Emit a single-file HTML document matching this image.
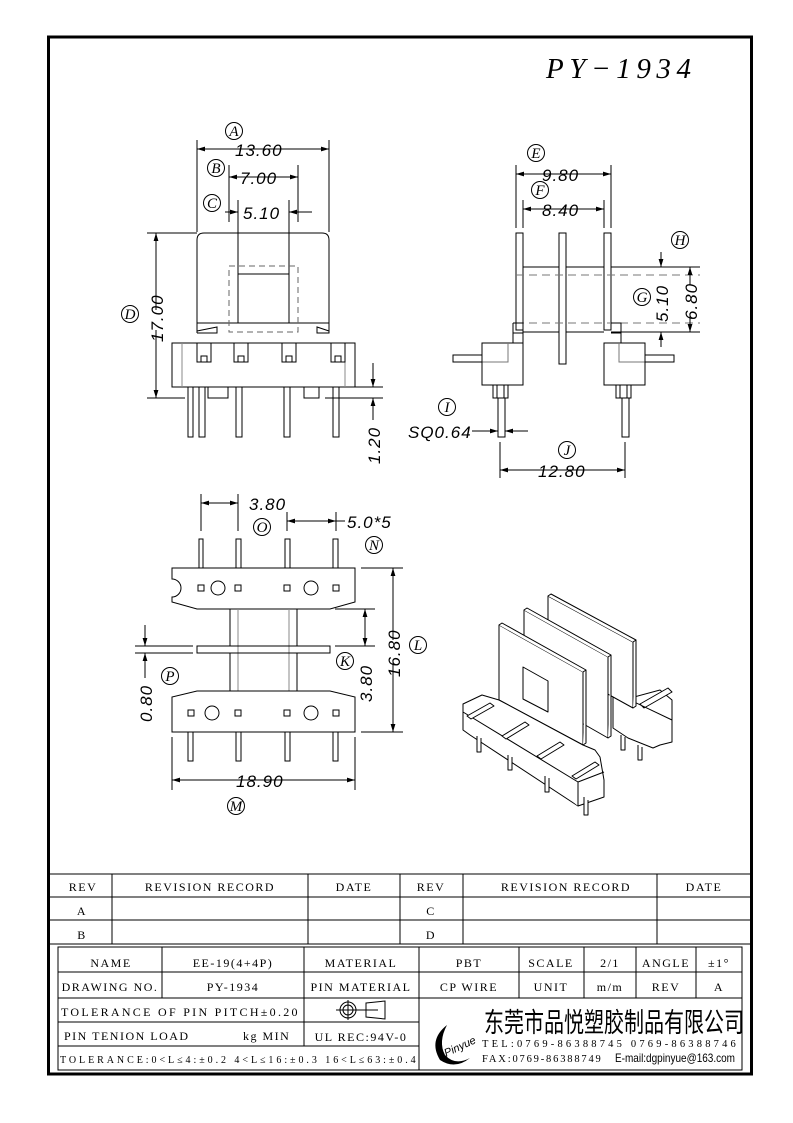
<!DOCTYPE html>
<html><head><meta charset="utf-8"><style>
html,body{margin:0;padding:0;background:#fff}
svg{display:block}
.d{font-family:"Liberation Sans",sans-serif;font-style:italic;font-size:17px;letter-spacing:1px}
.c{font-family:"Liberation Serif",serif;font-style:italic;font-size:15px}
.t{font-family:"Liberation Serif",serif;font-size:12px;letter-spacing:1.5px}
</style></head><body>
<svg width="793" height="1123" viewBox="0 0 793 1123" xmlns="http://www.w3.org/2000/svg">
<defs>
<marker id="a" viewBox="0 0 10 6" refX="10" refY="3" markerWidth="8" markerHeight="5" orient="auto-start-reverse"><path d="M0,0L10,3L0,6z" fill="#000"/></marker>
</defs>
<rect width="793" height="1123" fill="#fff"/>
<rect x="48.5" y="37" width="703" height="1037" fill="none" stroke="#000" stroke-width="3"/>
<text x="546" y="78" font-family="Liberation Serif,serif" font-style="italic" font-size="29" letter-spacing="3" textLength="148">PY−1934</text>

<g fill="none" stroke="#000" stroke-width="1">
<!-- FRONT VIEW -->
<path d="M197,140V232M329,140V232"/>
<line x1="197" y1="149" x2="329" y2="149" marker-start="url(#a)" marker-end="url(#a)"/>
<path d="M229,165V222M298,165V222"/>
<line x1="229" y1="177" x2="298" y2="177" marker-start="url(#a)" marker-end="url(#a)"/>
<path d="M238,200V274M289,200V274"/>
<line x1="225" y1="212" x2="238" y2="212" marker-end="url(#a)"/>
<line x1="312" y1="212" x2="289" y2="212" marker-end="url(#a)"/>
<path d="M197,333V240Q197,233 204,233H322Q329,233 329,240V333H317V327L329,331M197,323H329"/>
<path d="M197,333H217V327L197,331"/>
<rect x="238" y="274" width="51" height="49"/>
<rect x="229" y="266" width="69" height="66" stroke="#666" stroke-dasharray="6,4"/>
<rect x="172" y="343" width="183" height="44"/>
<path d="M182,343V387M345,343V387" stroke="#888"/>
<g>
<rect x="197" y="343" width="14" height="19"/><rect x="201" y="356" width="6" height="6"/>
<rect x="234" y="343" width="14" height="19"/><rect x="238" y="356" width="6" height="6"/>
<rect x="282" y="343" width="14" height="19"/><rect x="286" y="356" width="6" height="6"/>
<rect x="331" y="343" width="14" height="19"/><rect x="335" y="356" width="6" height="6"/>
</g>
<path d="M188,387V437H193V387M199,387V437H205V387M236,387V437H242V387M284,387V437H290V387M333,387V437H339V387"/>
<rect x="208" y="387" width="20" height="11"/><rect x="304" y="387" width="15" height="11"/>
<path d="M147,233H197M147,398H185M325,398H383M355,387H383"/>
<line x1="156" y1="310" x2="156" y2="233" marker-end="url(#a)"/>
<line x1="156" y1="330" x2="156" y2="398" marker-end="url(#a)"/>
<line x1="373" y1="363" x2="373" y2="387" marker-end="url(#a)"/>
<line x1="373" y1="420" x2="373" y2="398" marker-end="url(#a)"/>

<!-- SIDE VIEW -->
<path d="M516,165V228M611,165V228M523,200V228M604,200V228"/>
<line x1="516" y1="174" x2="611" y2="174" marker-start="url(#a)" marker-end="url(#a)"/>
<line x1="523" y1="209" x2="604" y2="209" marker-start="url(#a)" marker-end="url(#a)"/>
<rect x="516" y="233" width="7" height="97"/>
<rect x="604" y="233" width="7" height="97"/>
<rect x="559" y="233" width="7" height="131"/>
<path d="M523,267H559M566,267H604M611,267H700M523,332H559M566,332H604M611,332H700"/>
<path d="M516,275H700M516,323H700" stroke="#777" stroke-dasharray="8,5"/>
<path d="M513,323H523V343M513,323V343M513,333H523M611,323H621V343M611,333H621"/>
<rect x="482" y="343" width="41" height="42"/>
<rect x="604" y="343" width="41" height="42"/>
<path d="M482,362H508V343M645,362H619V343" stroke="#777"/>
<rect x="453" y="355" width="29" height="7"/><rect x="645" y="355" width="29" height="7"/>
<rect x="493" y="385" width="15" height="13"/><path d="M497,385V398M504,385V398"/>
<rect x="616" y="385" width="15" height="13"/><path d="M620,385V398M627,385V398"/>
<rect x="498" y="398" width="7" height="39"/><rect x="622" y="398" width="7" height="39"/>
<line x1="472" y1="431" x2="498" y2="431" marker-end="url(#a)"/>
<line x1="528" y1="431" x2="505" y2="431" marker-end="url(#a)"/>
<path d="M500,442V478M625,442V478"/>
<line x1="500" y1="470" x2="625" y2="470" marker-start="url(#a)" marker-end="url(#a)"/>
<path d="M670,267H700M670,332H700"/>
<line x1="661" y1="252" x2="661" y2="267" marker-end="url(#a)"/>
<line x1="661" y1="347" x2="661" y2="332" marker-end="url(#a)"/>
<line x1="690" y1="285" x2="690" y2="267" marker-end="url(#a)"/>
<line x1="690" y1="315" x2="690" y2="332" marker-end="url(#a)"/>

<!-- BOTTOM VIEW -->
<path d="M201,494V531M238,494V531M287,512V531M336,512V531"/>
<line x1="201" y1="503" x2="238" y2="503" marker-start="url(#a)" marker-end="url(#a)"/>
<line x1="287" y1="521" x2="336" y2="521" marker-start="url(#a)" marker-end="url(#a)"/>
<line x1="336" y1="521" x2="345" y2="521"/>
<path d="M199,568V539H203V568M236,568V539H241V568M285,568V539H290V568M333,568V539H338V568"/>
<path d="M172,568H355V602L330,609H197L172,602V597A9,9 0 0 0 172,579Z"/>
<circle cx="218" cy="588" r="7"/><circle cx="311" cy="588" r="7"/>
<rect x="198" y="585" width="6" height="6"/><rect x="235" y="585" width="6" height="6"/>
<rect x="284" y="585" width="6" height="6"/><rect x="333" y="585" width="6" height="6"/>
<path d="M230,609V646M297,609V646M230,653V691M297,653V691"/>
<path d="M238,609V691M289,609V691" stroke="#888"/>
<rect x="197" y="646" width="133" height="7"/>
<path d="M197,691H330L355,697V732H172V697Z"/>
<circle cx="212" cy="713" r="7"/><circle cx="311" cy="713" r="7"/>
<rect x="188" y="710" width="6" height="6"/><rect x="235" y="710" width="6" height="6"/>
<rect x="284" y="710" width="6" height="6"/><rect x="333" y="710" width="6" height="6"/>
<path d="M188,732V761H193V732M236,732V761H241V732M285,732V761H290V732M333,732V761H338V732"/>
<path d="M172,737V790M355,737V790"/>
<line x1="172" y1="780" x2="355" y2="780" marker-start="url(#a)" marker-end="url(#a)"/>
<path d="M361,568H403M361,732H403M335,609H375M335,646H375"/>
<line x1="393" y1="640" x2="393" y2="568" marker-end="url(#a)"/>
<line x1="393" y1="660" x2="393" y2="732" marker-end="url(#a)"/>
<line x1="365" y1="628" x2="365" y2="609" marker-end="url(#a)"/>
<line x1="365" y1="628" x2="365" y2="646" marker-end="url(#a)"/>
<path d="M135,646H193M135,653H193"/>
<line x1="145" y1="625" x2="145" y2="646" marker-end="url(#a)"/>
<line x1="145" y1="678" x2="145" y2="653" marker-end="url(#a)"/>

<!-- ISOMETRIC -->
<g fill="#fff" stroke-linejoin="round">
<path d="M613,728V690L634,697L660,690L672,700V742L660,745L653,748L628,738Z"/>
<path d="M630,700L672,720V742M640,704L668,688L672,692L644,708Z"/>
<path d="M548,596L633,642V708L548,661Z"/><path d="M548,596L551,594L636,640L633,642M636,640V706L633,708"/>
<path d="M524,610L608,657V738L524,690Z"/><path d="M524,610L527,608L611,655L608,657M611,655V736L608,738"/>
<path d="M499,625L583,672V745L499,700Z"/><path d="M499,625L502,623L586,670L583,672M586,670V743L583,745"/>
<path d="M523,667L548,681V712L523,699Z"/>
<path d="M463,704L482,695L499,700L583,745L595,750L600,757L604,780V797L578,806L470,735L463,730Z"/>
<path d="M463,712L578,782V806M578,782L604,772"/>
<path d="M467,716L490,703L494,706L471,719Z"/>
<path d="M502,736L525,722L529,725L506,739Z"/>
<path d="M537,756L560,742L564,745L541,759Z"/>
<path d="M572,776L595,762L599,765L576,779Z"/>
<path d="M477,736V752H481V738M508,755V770H512V757M545,776V792H549V778M584,797V815H588V800"/>
<path d="M621,735V750H625V737M638,745V760H642V747"/>
</g>
</g>

<!-- labels -->
<g class="d">
<text x="235" y="156">13.60</text><text x="240" y="184">7.00</text><text x="243" y="219">5.10</text>
<text x="542" y="181">9.80</text><text x="542" y="216">8.40</text>
<text x="408" y="438">SQ0.64</text><text x="538" y="477">12.80</text>
<text x="249" y="510">3.80</text><text x="347" y="528">5.0*5</text><text x="236" y="787">18.90</text>
<text transform="translate(163,342) rotate(-90)">17.00</text>
<text transform="translate(380,464) rotate(-90)">1.20</text>
<text transform="translate(668,322) rotate(-90)">5.10</text>
<text transform="translate(697,320) rotate(-90)">6.80</text>
<text transform="translate(400,677) rotate(-90)">16.80</text>
<text transform="translate(372,702) rotate(-90)">3.80</text>
<text transform="translate(152,722) rotate(-90)">0.80</text>
</g>
<g fill="none" stroke="#000">
<circle cx="234" cy="131" r="8.5"/><circle cx="216" cy="168" r="8.5"/><circle cx="212" cy="203" r="8.5"/><circle cx="130" cy="314" r="8.5"/>
<circle cx="536" cy="153" r="8.5"/><circle cx="540" cy="190" r="8.5"/><circle cx="680" cy="240" r="8.5"/><circle cx="642" cy="297" r="8.5"/>
<circle cx="447" cy="407" r="8.5"/><circle cx="567" cy="450" r="8.5"/>
<circle cx="262" cy="527" r="8.5"/><circle cx="374" cy="545" r="8.5"/><circle cx="418" cy="645" r="8.5"/><circle cx="345" cy="661" r="8.5"/>
<circle cx="170" cy="676" r="8.5"/><circle cx="236" cy="806" r="8.5"/>
</g>
<g class="c" text-anchor="middle">
<text x="234" y="136">A</text><text x="216" y="173">B</text><text x="212" y="208">C</text><text x="130" y="319">D</text>
<text x="536" y="158">E</text><text x="540" y="195">F</text><text x="680" y="245">H</text><text x="642" y="302">G</text>
<text x="447" y="412">I</text><text x="567" y="455">J</text>
<text x="262" y="532">O</text><text x="374" y="550">N</text><text x="418" y="650">L</text><text x="345" y="666">K</text>
<text x="170" y="681">P</text><text x="236" y="811">M</text>
</g>

<!-- TITLE BLOCK -->
<g fill="none" stroke="#000" stroke-width="1">
<path d="M48,874H751M48,897H751M48,920H751M48,944H751"/>
<path d="M112,874V944M308,874V944M400,874V944M463,874V944M657,874V944"/>
<rect x="58" y="947" width="684" height="123"/>
<path d="M58,972H742M58,998H742M58,1022H419M58,1046H419"/>
<path d="M162,947V998M304,947V1046M419,947V1070M519,947V998M584,947V998M636,947V998M696,947V998"/>
</g>
<g class="t" text-anchor="middle">
<text x="83" y="891">REV</text><text x="210" y="891">REVISION RECORD</text><text x="354" y="891">DATE</text>
<text x="431" y="891">REV</text><text x="566" y="891">REVISION RECORD</text><text x="704" y="891">DATE</text>
<text x="82" y="915">A</text><text x="431" y="915">C</text><text x="82" y="939">B</text><text x="431" y="939">D</text>
<text x="111" y="967">NAME</text><text x="233" y="967">EE-19(4+4P)</text><text x="361" y="967">MATERIAL</text>
<text x="469" y="967">PBT</text><text x="551" y="967">SCALE</text><text x="610" y="967">2/1</text><text x="666" y="967">ANGLE</text><text x="719" y="967">±1°</text>
<text x="110" y="991">DRAWING NO.</text><text x="233" y="991">PY-1934</text><text x="361" y="991">PIN MATERIAL</text>
<text x="469" y="991">CP WIRE</text><text x="551" y="991">UNIT</text><text x="610" y="991">m/m</text><text x="666" y="991">REV</text><text x="719" y="991">A</text>
<text x="361" y="1041">UL REC:94V-0</text>
</g>
<g class="t">
<text x="61" y="1016" textLength="238">TOLERANCE OF PIN PITCH±0.20</text>
<text x="64" y="1040">PIN TENION LOAD</text><text x="243" y="1040">kg MIN</text>
<text x="60" y="1063" font-size="10" letter-spacing="0.3" textLength="356">TOLERANCE:0&lt;L≤4:±0.2  4&lt;L≤16:±0.3  16&lt;L≤63:±0.4</text>
<text x="482" y="1047" font-size="10.5" letter-spacing="1.2" textLength="255">TEL:0769-86388745   0769-86388746</text>
<text x="482" y="1062" font-size="10.5" letter-spacing="1.2" textLength="120">FAX:0769-86388749</text>
</g>
<text x="615" y="1062" font-family="Liberation Sans,sans-serif" font-size="12" textLength="120" lengthAdjust="spacingAndGlyphs">E-mail:dgpinyue@163.com</text>
<g fill="none" stroke="#000">
<circle cx="348" cy="1010" r="5"/><circle cx="348" cy="1010" r="8"/><path d="M336,1010H378M348,1000V1020M366,1003L385,1001V1019L366,1017Z"/>
</g>
<path d="M447,1025Q428,1040 440,1060Q455,1070 470,1058Q455,1066 445,1055Q438,1042 447,1025Z" fill="#000"/>
<text x="442" y="1052" font-family="Liberation Sans,sans-serif" font-style="italic" font-size="11" transform="rotate(-25 455 1045)">Pinyue</text>
<text x="484" y="1032" font-family="'Noto Sans CJK SC',sans-serif" font-size="27" textLength="260" lengthAdjust="spacingAndGlyphs">东莞市品悦塑胶制品有限公司</text>
</svg>
</body></html>
